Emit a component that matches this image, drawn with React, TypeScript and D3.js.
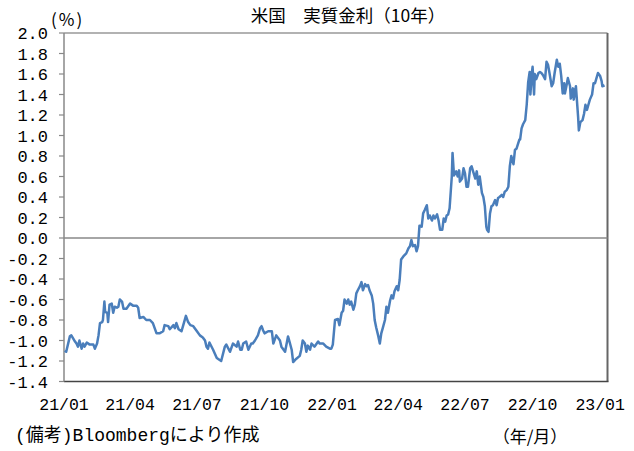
import React from "react";
import * as d3 from "d3";

const title = "米国　実質金利（10年）";
const unitLabel = "(%)";
const sourceNote = "(備考)Bloombergにより作成";
const axisNote = "（年/月）";

const yTicks = [2.0, 1.8, 1.6, 1.4, 1.2, 1.0, 0.8, 0.6, 0.4, 0.2, 0.0, -0.2, -0.4, -0.6, -0.8, -1.0, -1.2, -1.4];
const xTickDates = ["2021-01-01", "2021-04-01", "2021-07-01", "2021-10-01", "2022-01-01", "2022-04-01", "2022-07-01", "2022-10-01", "2023-01-01"];
const xTickLabels = ["21/01", "21/04", "21/07", "21/10", "22/01", "22/04", "22/07", "22/10", "23/01"];
const xDomain = ["2021-01-01", "2023-01-11"];

const dates = [
  "2021-01-02","2021-01-04","2021-01-09","2021-01-11","2021-01-16","2021-01-18","2021-01-20","2021-01-22","2021-01-25","2021-01-27",
  "2021-01-29","2021-02-01","2021-02-05","2021-02-10","2021-02-12","2021-02-15","2021-02-17","2021-02-19","2021-02-22","2021-02-23",
  "2021-02-25","2021-02-26","2021-03-01","2021-03-02","2021-03-04","2021-03-07","2021-03-09","2021-03-11","2021-03-14","2021-03-16",
  "2021-03-18","2021-03-21","2021-03-23","2021-03-27","2021-04-01","2021-04-05","2021-04-10","2021-04-12","2021-04-14","2021-04-19",
  "2021-04-23","2021-04-28","2021-05-02","2021-05-07","2021-05-11","2021-05-16","2021-05-18","2021-05-23","2021-05-25","2021-05-30",
  "2021-06-01","2021-06-03","2021-06-06","2021-06-10","2021-06-12","2021-06-16","2021-06-19","2021-06-22","2021-06-26","2021-07-01",
  "2021-07-05","2021-07-09","2021-07-12","2021-07-14","2021-07-16","2021-07-18","2021-07-23","2021-07-28","2021-08-01","2021-08-03",
  "2021-08-08","2021-08-10","2021-08-15","2021-08-19","2021-08-24","2021-08-26","2021-08-29","2021-08-31","2021-09-02","2021-09-06",
  "2021-09-09","2021-09-13","2021-09-15","2021-09-18","2021-09-22","2021-09-25","2021-09-27","2021-09-29","2021-10-01","2021-10-06",
  "2021-10-11","2021-10-13","2021-10-17","2021-10-22","2021-10-24","2021-10-29","2021-11-02","2021-11-04","2021-11-07","2021-11-09",
  "2021-11-13","2021-11-18","2021-11-20","2021-11-22","2021-11-25","2021-11-27","2021-11-29","2021-12-02","2021-12-04","2021-12-08",
  "2021-12-13","2021-12-15","2021-12-20","2021-12-24","2021-12-29","2021-12-31","2022-01-02","2022-01-05","2022-01-09","2022-01-11",
  "2022-01-14","2022-01-16","2022-01-18","2022-01-21","2022-01-23","2022-01-25","2022-01-27","2022-01-30","2022-02-01","2022-02-03",
  "2022-02-05","2022-02-08","2022-02-10","2022-02-12","2022-02-15","2022-02-17","2022-02-19","2022-02-21","2022-02-24","2022-02-26",
  "2022-02-28","2022-03-02","2022-03-05","2022-03-07","2022-03-09","2022-03-11","2022-03-14","2022-03-16","2022-03-18","2022-03-21",
  "2022-03-23","2022-03-25","2022-03-27","2022-03-30","2022-04-01","2022-04-03","2022-04-05","2022-04-08","2022-04-12","2022-04-15",
  "2022-04-17","2022-04-19","2022-04-21","2022-04-24","2022-04-26","2022-04-28","2022-04-30","2022-05-03","2022-05-05","2022-05-07",
  "2022-05-10","2022-05-12","2022-05-14","2022-05-17","2022-05-19","2022-05-21","2022-05-24","2022-05-26","2022-05-28","2022-05-31",
  "2022-06-02","2022-06-04","2022-06-06","2022-06-08","2022-06-10","2022-06-13","2022-06-14","2022-06-16","2022-06-19","2022-06-21",
  "2022-06-23","2022-06-24","2022-06-27","2022-06-29","2022-07-01","2022-07-03","2022-07-05","2022-07-08","2022-07-10","2022-07-12",
  "2022-07-15","2022-07-17","2022-07-19","2022-07-21","2022-07-24","2022-07-26","2022-07-28","2022-07-30","2022-07-31","2022-08-02",
  "2022-08-04","2022-08-06","2022-08-08","2022-08-11","2022-08-13","2022-08-15","2022-08-17","2022-08-20","2022-08-22","2022-08-24",
  "2022-08-27","2022-08-29","2022-08-31","2022-09-02","2022-09-05","2022-09-07","2022-09-09","2022-09-13","2022-09-14","2022-09-16",
  "2022-09-18","2022-09-21","2022-09-23","2022-09-25","2022-09-27","2022-09-28","2022-09-30","2022-10-01","2022-10-03","2022-10-04",
  "2022-10-06","2022-10-09","2022-10-11","2022-10-13","2022-10-15","2022-10-18","2022-10-20","2022-10-22","2022-10-24","2022-10-27",
  "2022-10-29","2022-10-31","2022-11-03","2022-11-05","2022-11-07","2022-11-09","2022-11-11","2022-11-13","2022-11-14","2022-11-16",
  "2022-11-18","2022-11-21","2022-11-22","2022-11-25","2022-11-26","2022-11-29","2022-12-02","2022-12-03","2022-12-05","2022-12-08",
  "2022-12-10","2022-12-12","2022-12-14","2022-12-16","2022-12-18","2022-12-21","2022-12-23","2022-12-25","2022-12-27","2022-12-29",
  "2023-01-01","2023-01-03","2023-01-04","2023-01-07"
];

const values = [
  -1.10,-1.11,-0.96,-0.95,-1.01,-1.03,-1.06,-1.00,-1.08,-1.03,
  -1.06,-1.02,-1.04,-1.04,-1.08,-1.03,-0.95,-0.83,-0.82,-0.80,
  -0.62,-0.72,-0.73,-0.82,-0.65,-0.64,-0.73,-0.67,-0.68,-0.67,
  -0.60,-0.62,-0.69,-0.69,-0.64,-0.66,-0.66,-0.68,-0.78,-0.77,
  -0.80,-0.80,-0.83,-0.93,-0.93,-0.91,-0.85,-0.86,-0.89,-0.85,
  -0.88,-0.83,-0.89,-0.91,-0.86,-0.76,-0.82,-0.85,-0.86,-0.91,
  -0.95,-0.97,-1.00,-1.06,-1.08,-1.02,-1.09,-1.17,-1.19,-1.20,
  -1.06,-1.04,-1.11,-1.03,-1.06,-1.01,-1.09,-1.09,-1.03,-1.01,
  -1.09,-1.03,-1.03,-1.00,-0.95,-0.88,-0.86,-0.90,-0.93,-0.91,
  -0.91,-1.03,-0.95,-1.00,-1.06,-1.11,-0.96,-1.01,-1.09,-1.21,
  -1.18,-1.15,-1.09,-1.00,-1.03,-1.11,-1.05,-1.09,-1.03,-1.06,
  -1.01,-1.03,-1.03,-1.06,-1.08,-1.08,-1.04,-0.80,-0.79,-0.85,
  -0.73,-0.71,-0.60,-0.64,-0.60,-0.65,-0.62,-0.70,-0.65,-0.54,
  -0.51,-0.47,-0.43,-0.51,-0.45,-0.47,-0.46,-0.51,-0.56,-0.64,
  -0.80,-0.87,-0.96,-1.03,-0.93,-0.88,-0.80,-0.67,-0.73,-0.61,
  -0.56,-0.59,-0.52,-0.47,-0.51,-0.41,-0.21,-0.18,-0.15,-0.10,
  -0.08,-0.02,-0.08,-0.07,-0.13,-0.08,0.12,0.11,0.24,0.27,
  0.32,0.19,0.22,0.17,0.22,0.19,0.23,0.17,0.08,0.08,
  0.19,0.16,0.22,0.23,0.29,0.60,0.83,0.61,0.65,0.60,
  0.66,0.55,0.58,0.68,0.63,0.50,0.50,0.68,0.70,0.65,
  0.58,0.65,0.52,0.60,0.44,0.40,0.31,0.11,0.08,0.06,
  0.24,0.31,0.32,0.37,0.32,0.39,0.40,0.42,0.40,0.45,
  0.47,0.50,0.70,0.80,0.72,0.86,0.87,0.96,0.96,1.07,
  1.11,1.15,1.30,1.52,1.62,1.40,1.61,1.67,1.40,1.60,
  1.55,1.61,1.62,1.61,1.59,1.55,1.72,1.69,1.61,1.48,
  1.51,1.61,1.74,1.67,1.70,1.58,1.41,1.51,1.41,1.48,
  1.56,1.48,1.36,1.46,1.35,1.48,1.18,1.05,1.13,1.15,
  1.21,1.30,1.25,1.30,1.35,1.40,1.51,1.51,1.56,1.61,
  1.58,1.53,1.48,1.49
];

const W = 634;
const H = 451;
const M = { left: 64, right: 634 - 607.5, top: 33, bottom: 451 - 381.5 };

const parse = d3.timeParse("%Y-%m-%d");

export default function App() {
  const x = d3.scaleTime()
    .domain(xDomain.map((d) => parse(d) as Date))
    .range([M.left, W - M.right]);
  const y = d3.scaleLinear().domain([-1.4, 2.0]).range([H - M.bottom, M.top]);

  const series = dates.map((d, i) => ({ date: parse(d) as Date, value: values[i] }));
  const line = d3.line<{ date: Date; value: number }>()
    .x((d) => x(d.date))
    .y((d) => y(d.value));

  const monoFont = "'Liberation Mono', 'DejaVu Sans Mono', monospace";
  const cjkFont = "'Noto Sans CJK JP', sans-serif";

  const x0 = M.left;
  const x1 = W - M.right;
  const y0 = M.top;
  const y1 = H - M.bottom;

  return (
    <svg
      width={W}
      height={H}
      style={{ position: "absolute", left: 0, top: 0, background: "#fff" }}
      xmlns="http://www.w3.org/2000/svg"
    >
      <rect x={0} y={0} width={W} height={H} fill="#fff" />
      {/* title */}
      <text x={348} y={22} textAnchor="middle" fontFamily={cjkFont} fontSize={17.5} fill="#000">
        {title}
      </text>
      {/* unit */}
      <text x={51} y={26} fontFamily={cjkFont} fontSize={17} letterSpacing={2} fill="#000">
        {unitLabel}
      </text>

      {/* plot border */}
      <line x1={x0} x2={x1} y1={y0} y2={y0} stroke="#666" strokeWidth={1.2} />
      <line x1={x1} x2={x1} y1={y0} y2={y1} stroke="#666" strokeWidth={2} />
      <line x1={x0} x2={x1 + 1} y1={y1} y2={y1} stroke="#444" strokeWidth={1.5} />
      <line x1={x0} x2={x0} y1={y0} y2={y1} stroke="#888" strokeWidth={1.5} />

      {/* y ticks */}
      {yTicks.map((t) => (
        <g key={t}>
          <line x1={x0 - 5} x2={x0} y1={y(t)} y2={y(t)} stroke="#888" strokeWidth={1.2} />
          <text
            x={48}
            y={y(t)}
            dy="0.36em"
            textAnchor="end"
            fontFamily={monoFont}
            fontSize={17}
            fill="#000"
          >
            {t < 0 ? "-" + Math.abs(t).toFixed(1) : t.toFixed(1)}
          </text>
        </g>
      ))}

      {/* zero line */}
      <line x1={x0} x2={x1} y1={y(0)} y2={y(0)} stroke="#888" strokeWidth={1.5} />

      {/* x tick labels */}
      {xTickDates.map((d, i) => (
        <text
          key={d}
          x={x(parse(d) as Date)}
          y={410}
          textAnchor="middle"
          fontFamily={monoFont}
          fontSize={16.5}
          fill="#000"
        >
          {xTickLabels[i]}
        </text>
      ))}

      {/* series */}
      <path d={line(series) || ""} fill="none" stroke="#4a7ebb" strokeWidth={2.5} strokeLinejoin="round" />

      {/* notes */}
      <text x={15} y={441} fontFamily={`${monoFont}, ${cjkFont}`} fontSize={18} fill="#000">
        {sourceNote}
      </text>
      <text x={530} y={443} textAnchor="middle" fontFamily={cjkFont} fontSize={17} fill="#000">
        {axisNote}
      </text>
    </svg>
  );
}
